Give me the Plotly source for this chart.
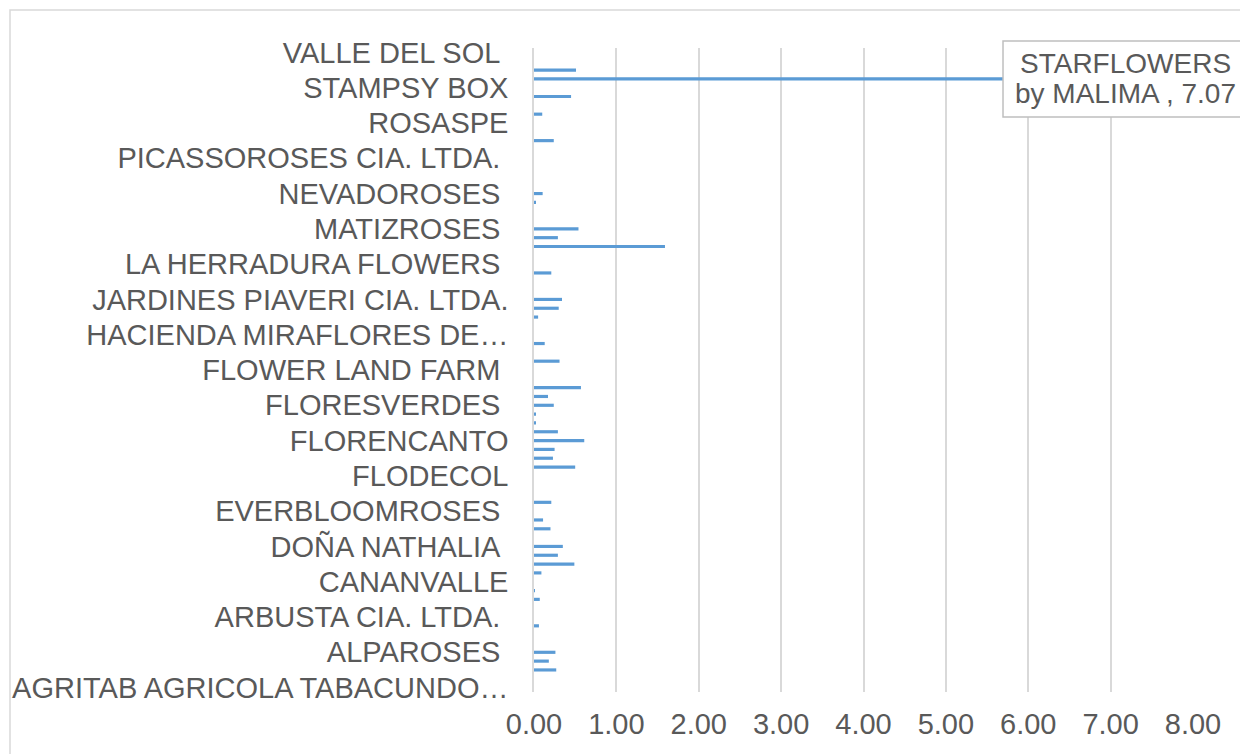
import plotly.graph_objects as go

# Category labels visible on the axis (every 4th category, bottom to top)
label_names = [
    "AGRITAB AGRICOLA TABACUNDO…", "ALPAROSES ", "ARBUSTA CIA. LTDA. ", "CANANVALLE",
    "DOÑA NATHALIA ", "EVERBLOOMROSES ", "FLODECOL", "FLORENCANTO", "FLORESVERDES ",
    "FLOWER LAND FARM ", "HACIENDA MIRAFLORES DE…", "JARDINES PIAVERI CIA. LTDA.",
    "LA HERRADURA FLOWERS ", "MATIZROSES ", "NEVADOROSES ", "PICASSOROSES CIA. LTDA. ",
    "ROSASPE", "STAMPSY BOX", "VALLE DEL SOL ",
]
label_step = 4

# Values for all 73 categories (index 0 = bottom)
values = [
    0, 0, 0.27, 0.18, 0.26, 0, 0, 0.06, 0, 0,
    0.07, 0.01, 0, 0.09, 0.49, 0.29, 0.35, 0, 0.20, 0.11,
    0, 0.21, 0, 0, 0, 0.50, 0.23, 0.25, 0.61, 0.29,
    0.02, 0.02, 0.24, 0.17, 0.57, 0, 0, 0.31, 0, 0.13,
    0, 0, 0.05, 0.30, 0.34, 0, 0, 0.21, 0, 0,
    1.59, 0.29, 0.54, 0, 0, 0.02, 0.105, 0, 0, 0,
    0, 0, 0.24, 0, 0, 0.10, 0, 0.45, 0, 7.07,
    0.51, 0, 0,
]
positions = list(range(len(values)))

callout_line1 = "STARFLOWERS"
callout_line2 = "by MALIMA , 7.07"

x_ticks = [0, 1, 2, 3, 4, 5, 6, 7, 8]
x_ticktext = [f"{v:.2f}" for v in x_ticks]

FONT = "Arial, 'Liberation Sans', sans-serif"
GREY = "#595959"
FS = 29

# trailing spaces kept visible as non-breaking spaces
tick_text = [t[:-1] + "\u00a0" if t.endswith(" ") else t for t in label_names]

fig = go.Figure(go.Bar(
    x=values, y=positions, orientation="h",
    marker=dict(color="#5B9BD5", line=dict(width=0)),
    width=0.36,
))

fig.update_layout(
    width=1240, height=746,
    paper_bgcolor="white", plot_bgcolor="white",
    margin=dict(l=526, r=55, t=40, b=62, autoexpand=False),
    showlegend=False,
    font=dict(family=FONT, color=GREY, size=FS),
)
fig.update_xaxes(
    range=[0, 8], tickvals=x_ticks, ticktext=x_ticktext,
    showgrid=True, gridcolor="#D9D9D9", gridwidth=1.5,
    zeroline=False, showline=False, automargin=False,
    tickfont=dict(size=FS, color=GREY), ticks="", ticklabelstandoff=12,
    fixedrange=True,
)
fig.update_yaxes(
    range=[-0.5, len(values) - 0.5],
    tickvals=positions[::label_step], ticktext=tick_text,
    showgrid=False, zeroline=False, automargin=False,
    showline=True, linecolor="#D9D9D9", linewidth=1.5,
    tickfont=dict(size=FS, color=GREY), ticks="", ticklabelstandoff=18,
    fixedrange=True,
)

# callout box (data label of the largest bar)
fig.add_shape(type="rect", xref="paper", yref="paper",
              x0=0.7117, x1=1.0941, y0=0.8929, y1=1.0109,
              fillcolor="white", line=dict(color="#BFBFBF", width=1.5),
              layer="above")
fig.add_annotation(x=0.8983, y=0.9756, xref="paper", yref="paper",
                   text=callout_line1, showarrow=False, xanchor="center",
                   yanchor="middle", font=dict(size=28, color=GREY, family=FONT))
fig.add_annotation(x=0.8983, y=0.9301, xref="paper", yref="paper",
                   text=callout_line2, showarrow=False, xanchor="center",
                   yanchor="middle", font=dict(size=28, color=GREY, family=FONT))

# outer chart border (partially visible, as in the reference)
fig.add_shape(type="rect", xref="paper", yref="paper",
              x0=-524 / 659, x1=1.3, y0=-0.3, y1=(684 - 2) / 644,
              line=dict(color="#D9D9D9", width=1.5), layer="below")

fig.write_html("out.html")
